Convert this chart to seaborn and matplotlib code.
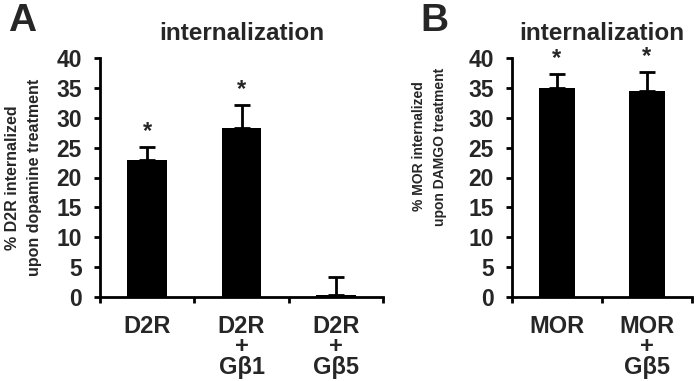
import matplotlib
matplotlib.use('Agg')
import matplotlib.pyplot as plt
import seaborn as sns
import numpy as np

sns.set_style('white')
plt.rcParams['font.family'] = ['Liberation Sans', 'DejaVu Sans']
plt.rcParams['font.weight'] = 'bold'

# panel A data
cats_a = ['D2R', 'D2R\n+\nGβ1', 'D2R\n+\nGβ5']
vals_a = [22.9, 28.3, 0.3]
errs_a = [2.2, 3.9, 3.0]
sig_a = ['*', '*', '']

# panel B data
cats_b = ['MOR', 'MOR\n+\nGβ5']
vals_b = [35.0, 34.5]
errs_b = [2.3, 3.2]
sig_b = ['*', '*']

yticks = [0, 5, 10, 15, 20, 25, 30, 35, 40]

fig = plt.figure(figsize=(7, 3.81), dpi=100)
axA = fig.add_axes([100/700, 84/381, 283/700, 239/381])
axB = fig.add_axes([512/700, 84/381, 180/700, 239/381])


def draw(ax, cats, vals, errs, sig, width, ylab, labfs, labpos):
    sns.barplot(x=cats, y=vals, color='black', width=width, ax=ax,
                saturation=1, edgecolor='black', linewidth=0)
    n = len(cats)
    ax.errorbar(np.arange(n), vals, yerr=[np.zeros(n), errs], fmt='none',
                ecolor='black', elinewidth=2, capsize=6, capthick=2)
    for i in range(n):
        if sig[i]:
            ax.annotate(sig[i], (i, vals[i] + errs[i]), xytext=(0, 11),
                        textcoords='offset points', ha='center', va='center',
                        fontsize=17, fontweight='bold')
    ax.set_xlim(-0.5, n - 0.5)
    ax.set_ylim(0, 40)
    ax.set_yticks(yticks)
    ax.set_yticklabels([str(t) for t in yticks], fontsize=16.5, fontweight='bold')
    ax.set_xticks(np.arange(n))
    ax.set_xticklabels(cats, fontsize=17, fontweight='bold', linespacing=0.85)
    ax.set_xticks(np.arange(n + 1) - 0.5, minor=True)
    ax.tick_params(axis='x', which='major', length=0, pad=13)
    ax.tick_params(axis='x', which='minor', length=4, width=2, direction='out',
                   color='black', bottom=True)
    ax.tick_params(axis='y', length=4, width=2, direction='out', color='black',
                   left=True, pad=9)
    for s in ['top', 'right']:
        ax.spines[s].set_visible(False)
    for s in ['left', 'bottom']:
        ax.spines[s].set_linewidth(2)
        ax.spines[s].set_color('black')
    ax.set_ylabel(ylab, fontsize=labfs, fontweight='bold', linespacing=1.6)
    ax.yaxis.set_label_coords(*labpos)
    ax.set_xlabel('')
    ax.set_title('internalization', fontsize=17.5, fontweight='bold', pad=13)


draw(axA, cats_a, vals_a, errs_a, sig_a, 0.42,
     '% D2R internalized\nupon dopamine treatment', 11.5, (-0.205, 0.5))
draw(axB, cats_b, vals_b, errs_b, sig_b, 0.39,
     '% MOR internalized\nupon DAMGO treatment', 10, (-0.361, 0.63))

fig.text(8/700, 1 - 3/381, 'A', fontsize=28, fontweight='bold', va='top', ha='left')
fig.text(420/700, 1 - 3/381, 'B', fontsize=28, fontweight='bold', va='top', ha='left')

fig.savefig('out.png', dpi=100)
